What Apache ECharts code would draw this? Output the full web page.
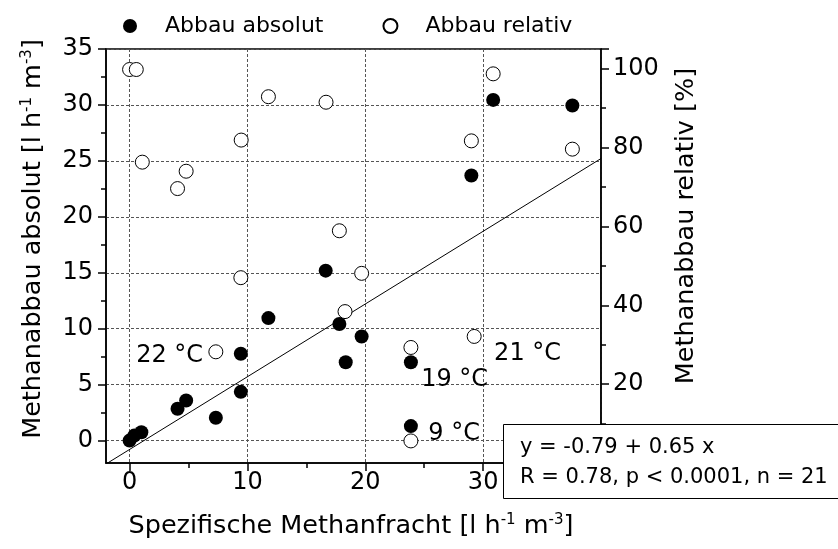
<!DOCTYPE html>
<html>
<head>
<meta charset="utf-8">
<script src="https://cdn.jsdelivr.net/npm/echarts@6/dist/echarts.min.js"></script>
<style>
  html, body { margin: 0; padding: 0; background: #fff; }
  #chart { width: 838px; height: 549px; }
</style>
</head>
<body>
<div id="chart"></div>
<script>
const FONT = "DejaVu Sans";

// Abbau absolut [l h-1 m-3] vs. spezifische Methanfracht
const absFracht = [0, 0.4, 1.0, 4.07, 4.8, 7.32, 9.44, 9.44, 11.78, 16.64, 17.8, 18.34, 19.69, 23.87, 23.87, 29.0, 30.85, 37.57];
const absAbbau = [0, 0.45, 0.75, 2.85, 3.59, 2.05, 4.36, 7.77, 10.95, 15.19, 10.42, 7.0, 9.31, 7.0, 1.3, 23.69, 30.45, 29.95];

// Abbau relativ [%]
const relFracht = [0, 0.57, 1.08, 4.07, 4.8, 7.32, 9.44, 9.47, 11.78, 16.67, 17.8, 18.28, 19.69, 23.87, 23.87, 29.0, 29.24, 30.85, 37.57];
const relAbbau = [99.8, 99.8, 76.3, 69.6, 74.0, 28.2, 47.0, 81.9, 92.9, 91.5, 58.9, 38.4, 48.1, 29.3, 5.6, 81.7, 32.1, 98.7, 79.6];

// lineare Regression
const fitIntercept = -0.79;
const fitSlope = 0.65;
const fitRange = [-2, 40];

// Temperatur-Beschriftungen
const tempText = ["22 °C", "19 °C", "21 °C", "9 °C"];
const tempX = [3.4, 27.58, 33.77, 27.54];
const tempY = [7.55, 5.43, 7.75, 0.63];

const xTicks = [0, 10, 20, 30, 40];
const yLeftTicks = [0, 5, 10, 15, 20, 25, 30, 35];

const chart = echarts.init(document.getElementById("chart"));

const gridLine = { show: true, lineStyle: { color: "#555", width: 1, type: [3, 2] } };
const axisLineBlack = { show: true, onZero: false, lineStyle: { color: "#000", width: 1.5 } };
const tickStyle = { color: "#000", width: 1.5 };

const sup = (base, s) => `{a|${base}}{s|${s}}`;
const richTitle = {
  a: { fontSize: 25.5, fontFamily: FONT, color: "#000" },
  s: { fontSize: 15, fontFamily: FONT, color: "#000", verticalAlign: "top" },
};

const option = {
  animation: false,
  backgroundColor: "#fff",
  grid: {
    left: 106,
    right: 237,
    top: 49,
    bottom: 86,
    show: true,
    borderColor: "#000",
    borderWidth: 1.5,
  },
  legend: {
    left: 123,
    top: 15,
    itemWidth: 14,
    itemHeight: 14,
    itemGap: 59,
    padding: 0,
    selectedMode: false,
    textStyle: { fontFamily: FONT, fontSize: 22, color: "#000", padding: [0, 0, 0, 23] },
    data: [
      { name: "Abbau absolut", icon: "circle" },
      { name: "Abbau relativ", icon: "circle" },
    ],
  },
  xAxis: {
    type: "value",
    min: -2,
    max: 40,
    splitNumber: 5,
    axisLine: axisLineBlack,
    axisTick: { show: true, length: 8, customValues: xTicks, lineStyle: tickStyle },
    minorTick: { show: true, splitNumber: 2, length: 5, lineStyle: tickStyle },
    axisLabel: { customValues: xTicks, margin: 8, fontFamily: FONT, fontSize: 24, color: "#000" },
    splitLine: gridLine,
  },
  yAxis: [
    {
      type: "value",
      min: -2,
      max: 35,
      splitNumber: 7,
      position: "left",
      axisLine: axisLineBlack,
      axisTick: { show: true, length: 8, customValues: yLeftTicks, lineStyle: tickStyle },
      minorTick: { show: true, splitNumber: 2, length: 5, lineStyle: tickStyle },
      axisLabel: { customValues: yLeftTicks, margin: 13, fontFamily: FONT, fontSize: 24, color: "#000" },
      splitLine: gridLine,
    },
    {
      type: "value",
      min: 0,
      max: 105,
      interval: 20,
      position: "right",
      axisLine: axisLineBlack,
      axisTick: { show: true, length: 8, lineStyle: tickStyle },
      minorTick: { show: true, splitNumber: 2, length: 5, lineStyle: tickStyle },
      axisLabel: { margin: 12, fontFamily: FONT, fontSize: 24, color: "#000", showMaxLabel: false },
      splitLine: { show: false },
    },
  ],
  series: [
    {
      name: "Regression",
      type: "line",
      yAxisIndex: 0,
      data: fitRange.map((x) => [x, fitIntercept + fitSlope * x]),
      showSymbol: false,
      symbol: "none",
      lineStyle: { color: "#000", width: 1 },
      clip: true,
      silent: true,
      z: 1,
    },
    {
      name: "Abbau absolut",
      type: "scatter",
      yAxisIndex: 0,
      symbol: "circle",
      symbolSize: 14,
      itemStyle: { color: "#000", opacity: 1 },
      data: absFracht.map((x, i) => [x, absAbbau[i]]),
      z: 3,
    },
    {
      name: "Abbau relativ",
      type: "scatter",
      yAxisIndex: 1,
      symbol: "circle",
      symbolSize: 14,
      itemStyle: { color: "#fff", borderColor: "#000", borderWidth: 1, opacity: 1 },
      data: relFracht.map((x, i) => [x, relAbbau[i]]),
      z: 4,
    },
    {
      name: "Temperatur",
      type: "scatter",
      yAxisIndex: 0,
      symbolSize: 0,
      silent: true,
      itemStyle: { opacity: 1 },
      data: tempX.map((x, i) => [x, tempY[i], tempText[i]]),
      label: {
        show: true,
        position: "inside",
        formatter: (p) => p.data[2],
        fontFamily: FONT,
        fontSize: 24,
        color: "#000",
        opacity: 1,
      },
      z: 5,
    },
  ],
  graphic: [
    {
      type: "text",
      x: 351,
      y: 526,
      style: {
        text: sup("Spezifische Methanfracht [l h", "-1") + "{a| m}{s|-3}{a|]}",
        rich: richTitle,
        align: "center",
        verticalAlign: "middle",
      },
    },
    {
      type: "text",
      x: 33,
      y: 239,
      rotation: Math.PI / 2,
      style: {
        text: sup("Methanabbau absolut [l h", "-1") + "{a| m}{s|-3}{a|]}",
        rich: richTitle,
        align: "center",
        verticalAlign: "middle",
      },
    },
    {
      type: "text",
      x: 686,
      y: 226,
      rotation: Math.PI / 2,
      style: {
        text: "Methanabbau relativ [%]",
        font: "25.5px " + FONT,
        fill: "#000",
        align: "center",
        verticalAlign: "middle",
      },
    },
    {
      type: "group",
      z: 100,
      children: [
        {
          type: "rect",
          shape: { x: 503.5, y: 424.5, width: 340, height: 74 },
          style: { fill: "#fff", stroke: "#000", lineWidth: 1 },
          z: 100,
        },
        {
          type: "text",
          x: 520,
          y: 448,
          style: { text: "y = -0.79 + 0.65 x", font: "21px " + FONT, fill: "#000", verticalAlign: "middle" },
          z: 101,
        },
        {
          type: "text",
          x: 520,
          y: 478,
          style: { text: "R = 0.78, p < 0.0001, n = 21", font: "21px " + FONT, fill: "#000", verticalAlign: "middle" },
          z: 101,
        },
      ],
    },
  ],
};

chart.setOption(option);
</script>
</body>
</html>
